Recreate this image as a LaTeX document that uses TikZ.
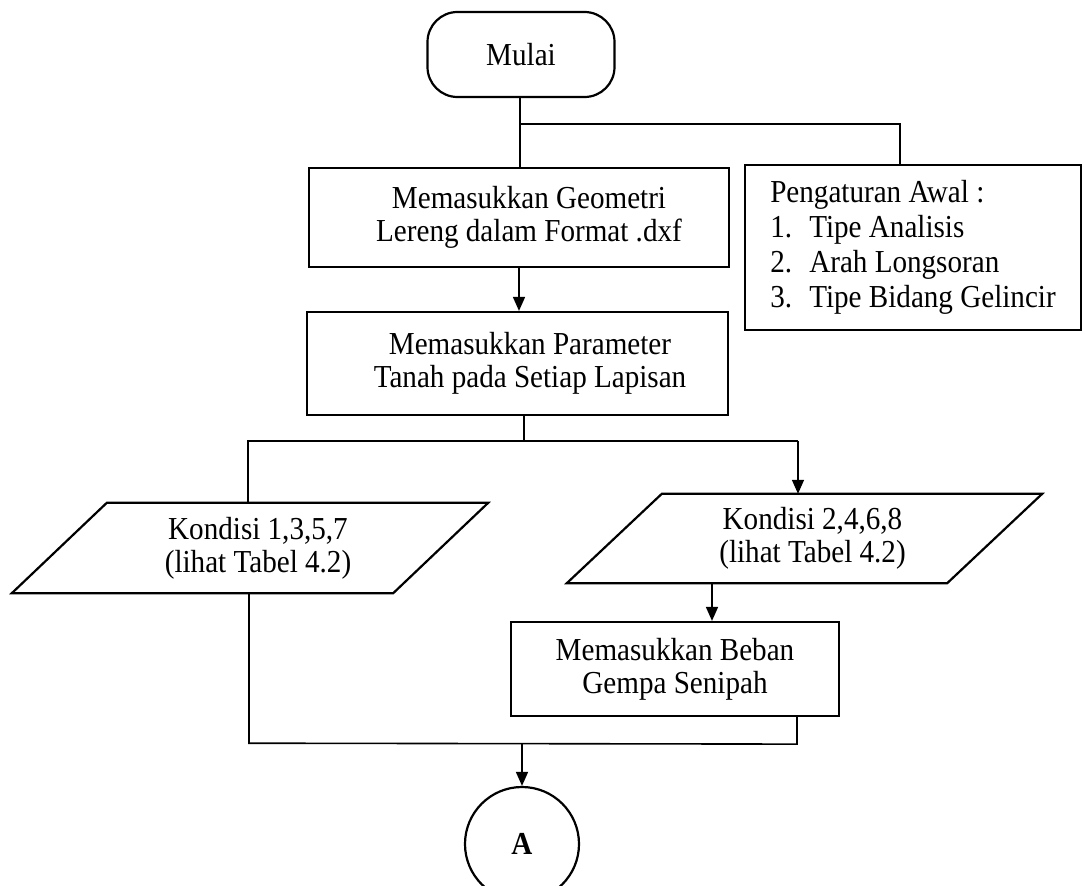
\documentclass[tikz,border=0pt]{standalone}
\usepackage{fontspec}
\setmainfont{Liberation Serif}[FakeStretch=0.91]
\usetikzlibrary{arrows.meta,calc}
\newcommand{\ff}{\fontsize{32}{33}\selectfont}
\tikzset{
  boxstyle/.style={draw, line width=2.2pt, inner sep=0pt, align=center, font=\ff},
  conn/.style={line width=1.6pt},
  arr/.style={line width=1.6pt, -{Triangle[length=14pt,width=12pt]}},
  plain/.style={inner sep=0pt, align=center, font=\ff}
}
\newcommand{\shiftr}[1]{\hspace*{#1pt}}
\begin{document}
\begin{tikzpicture}[x=1pt,y=-1pt]
\useasboundingbox (0,0) rectangle (1085,886);
% nodes
\node[boxstyle, rounded corners=30pt, minimum width=187pt, minimum height=85pt] (mulai) at (521,54.5) {Mulai};
\node[boxstyle, minimum width=420pt, minimum height=99pt] (b1) at (519,217.5) {\shiftr{20}Memasukkan Geometri\\\shiftr{20}Lereng dalam Format .dxf};
\node[boxstyle, minimum width=421pt, minimum height=103pt] (b2) at (517.5,363.5) {\shiftr{25}Memasukkan Parameter\\\shiftr{25}Tanah pada Setiap Lapisan};
\node[boxstyle, minimum width=336pt, minimum height=165pt, align=left, font=\fontsize{32}{35}\selectfont] (peng) at (913,247.5) {Pengaturan Awal :\\\makebox[39pt][l]{1.}Tipe Analisis\\\makebox[39pt][l]{2.}Arah Longsoran\\\makebox[39pt][l]{3.}Tipe Bidang Gelincir};
\node[plain, minimum width=381pt, minimum height=90pt] (p1) at (250,548) {\shiftr{16}Kondisi 1,3,5,7\\\shiftr{16}(lihat Tabel 4.2)};
\draw[line width=2.2pt] ($(p1.north west)+(47.5,0)$) -- ($(p1.north east)+(47.5,0)$) -- ($(p1.south east)+(-47.5,0)$) -- ($(p1.south west)+(-47.5,0)$) -- cycle;
\node[plain, minimum width=380pt, minimum height=89pt] (p2) at (804.5,538.5) {\shiftr{16}Kondisi 2,4,6,8\\\shiftr{16}(lihat Tabel 4.2)};
\draw[line width=2.2pt] ($(p2.north west)+(47.5,0)$) -- ($(p2.north east)+(47.5,0)$) -- ($(p2.south east)+(-47.5,0)$) -- ($(p2.south west)+(-47.5,0)$) -- cycle;
\node[boxstyle, minimum width=328pt, minimum height=94pt] (beban) at (675,669) {Memasukkan Beban\\Gempa Senipah};
\node[boxstyle, circle, minimum size=114pt, font=\ff\bfseries] (A) at (522,844) {A};
% connectors
\coordinate (j1) at ($(mulai.south)+(-1,26)$);
\coordinate (pt) at ($(peng.north)+(-13,0)$);
\draw[conn] (mulai.south -| j1) -- (j1 |- b1.north);
\draw[conn] (j1) -| (pt);
\draw[arr] (b1.south) -- (b1.south |- b2.north);
\coordinate (j2) at ($(b2.south)+(6.5,26)$);
\coordinate (l2) at ($(p1.north)+(-2,-62)$);
\coordinate (r2) at ($(p2.north)+(-6.5,-53)$);
\draw[conn] (b2.south -| j2) -- (j2);
\draw[conn] ($(p1.north)+(-2,0)$) -- (l2) -- (r2);
\draw[arr] (r2) -- ($(p2.north)+(-6.5,0)$);
\coordinate (p2out) at ($(p2.south)+(-92.5,0)$);
\draw[arr] (p2out) -- (p2out |- beban.north);
\coordinate (bl) at ($(p1.south)+(-1,150)$);
\coordinate (br) at ($(beban.south)+(122,27)$);
\draw[conn] ($(p1.south)+(-1,0)$) -- (bl) -- (br) -- (br |- beban.south);
\draw[arr] (A.north |- bl) -- (A.north);
\end{tikzpicture}
\end{document}
